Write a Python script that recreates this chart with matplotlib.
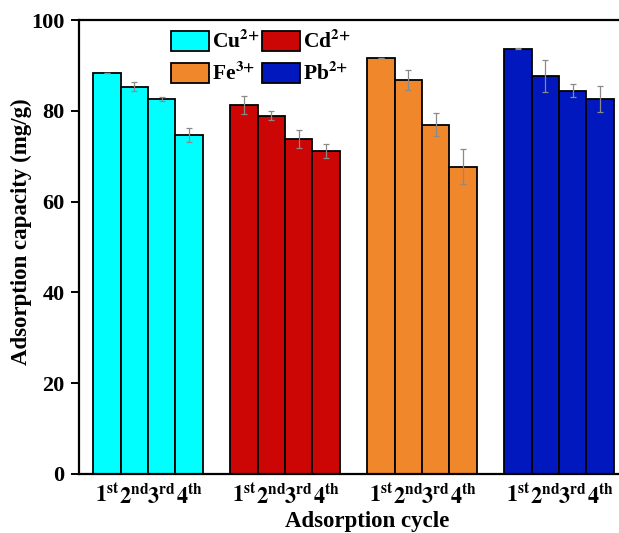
import matplotlib
matplotlib.use("Agg")
import matplotlib.pyplot as plt
import numpy as np

plt.rcParams['font.family'] = ['Liberation Serif', 'DejaVu Serif']
plt.rcParams['font.weight'] = 'bold'
plt.rcParams['mathtext.fontset'] = 'stix'

cycles = ['st', 'nd', 'rd', 'th']
ions = [r'Cu$^{\mathbf{2{+}}}$', r'Cd$^{\mathbf{2{+}}}$', r'Fe$^{\mathbf{3{+}}}$', r'Pb$^{\mathbf{2{+}}}$']

cu = [88.3, 85.4, 82.6, 74.7]
cu_err = [0.0, 1.0, 0.5, 1.5]
cd = [81.4, 79.0, 73.8, 71.2]
cd_err = [2.0, 1.05, 2.0, 1.6]
fe = [91.6, 86.8, 77.0, 67.7]
fe_err = [0.0, 2.2, 2.6, 3.85]
pb = [93.7, 87.7, 84.5, 82.6]
pb_err = [0.1, 3.45, 1.4, 2.9]

colors = ['#00FFFF', '#CC0505', '#F0872B', '#0018BE']
values = [cu, cd, fe, pb]
errors = [cu_err, cd_err, fe_err, pb_err]

fig = plt.figure(figsize=(6.19, 5.33), dpi=100)
W, H = 619, 533
left_px, right_px, top_px, bot_px = 78.5, 622, 20.3, 473.8
ax = fig.add_axes([left_px / W, 1 - bot_px / H, (right_px - left_px) / W, (bot_px - top_px) / H])
ax_h = bot_px - top_px
ax_w = right_px - left_px

group_gap = 5
handles = []
tick_pos = []
tick_lab = []
for g, (vals, errs, col) in enumerate(zip(values, errors, colors)):
    xs = group_gap * g + np.arange(4) + 0.5
    b = ax.bar(xs, vals, width=1.0, color=col, edgecolor='black', linewidth=1.3, zorder=2)
    ax.errorbar(xs, vals, yerr=errs, fmt='none', ecolor='#8a8a8a', elinewidth=0.9,
                capsize=2.3, capthick=0.9, zorder=3)
    handles.append(b)
    for i, c in enumerate(cycles):
        tick_pos.append(xs[i])
        tick_lab.append(r'$\mathbf{%d^{%s}}$' % (i + 1, c))

ax.set_xlim(-0.54, 19.3)
ax.set_ylim(0, 100)
ax.set_xticks(tick_pos)
ax.set_xticklabels(tick_lab, fontsize=16)
ax.tick_params(axis='x', length=0, pad=7)
ax.set_yticks([0, 20, 40, 60, 80, 100])
ax.tick_params(axis='y', direction='out', length=6, width=1.4, labelsize=16, pad=4)
for lab in ax.get_yticklabels():
    lab.set_fontweight('bold')

for s in ['left', 'bottom', 'top']:
    ax.spines[s].set_linewidth(1.6)
ax.spines['right'].set_visible(False)

ax.set_ylabel('Adsorption capacity (mg/g)', fontsize=16.5, fontweight='bold')
ax.yaxis.set_label_coords((21 - left_px) / ax_w, (bot_px - 232) / ax_h)
ax.yaxis.label.set_va('center')
ax.set_xlabel('Adsorption cycle', fontsize=16.5, fontweight='bold')
ax.xaxis.set_label_coords((367 - left_px) / ax_w, (bot_px - 522) / ax_h)
ax.xaxis.label.set_va('center')

order = [0, 2, 1, 3]
leg = ax.legend([handles[i] for i in order], [ions[i] for i in order], ncol=2,
                loc='upper left', bbox_to_anchor=(0.155, 0.997), frameon=False,
                fontsize=15.5, handlelength=1.75, handleheight=1.05, handletextpad=0.15,
                columnspacing=0.1, labelspacing=0.4, borderaxespad=0.0)

fig.savefig('out.png', dpi=100)
